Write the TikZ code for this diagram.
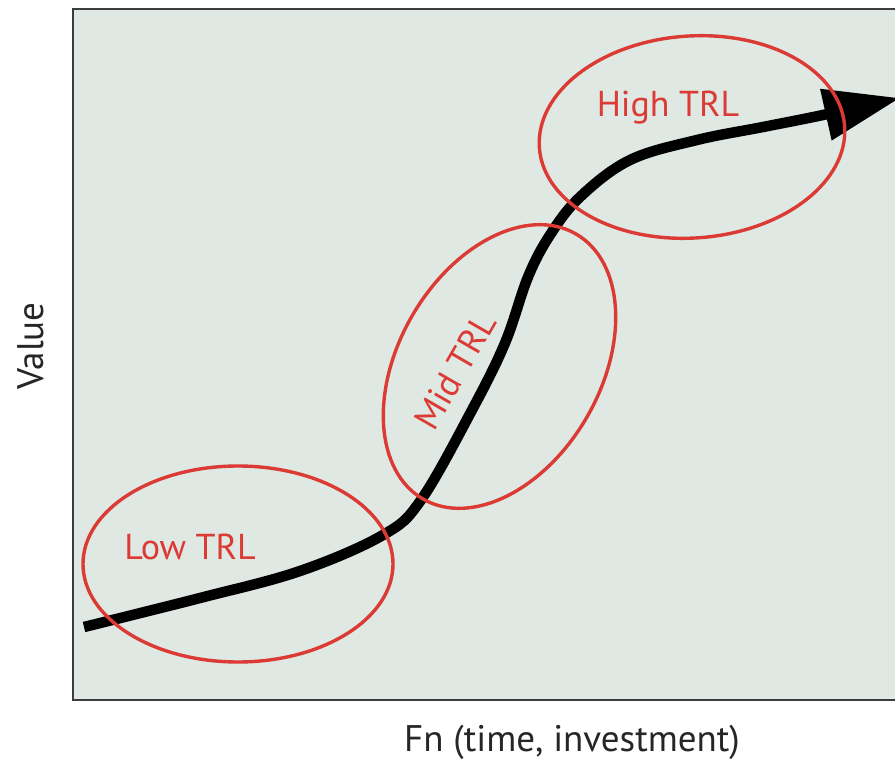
\documentclass[tikz,border=0pt]{standalone}
\usepackage{fontspec}
\setmainfont{PT Sans}
\usetikzlibrary{arrows.meta}
\definecolor{panel}{RGB}{223,232,226}
\definecolor{frame}{RGB}{60,60,60}
\definecolor{trlred}{RGB}{220,58,52}
\tikzset{
  trlring/.style={draw=trlred, line width=3.4pt},
  trllabel/.style={text=trlred, font=\fontsize{36}{42}\selectfont, inner sep=0pt},
  axislabel/.style={text=black!85, font=\fontsize{37}{42}\selectfont, inner sep=0pt},
  valuecurve/.style={line width=10.5pt, -{Triangle[length=76pt,width=50pt]}}
}
\begin{document}
\begin{tikzpicture}[x=1pt,y=-1pt]
  \useasboundingbox (0,0) rectangle (895,762);
  \clip (0,0) rectangle (895,762);
  % plot area
  \draw[fill=panel, draw=frame, line width=2pt] (73,9) rectangle (905,700);
  % axis labels
  \node[axislabel, anchor=base, rotate=90] (yl) at (43,346) {Value};
  \node[axislabel, anchor=base] (xl) at (572,751) {Fn (time, investment)};
  % value curve
  \coordinate (start) at (84,627);
  \coordinate (finish) at (900,98);
  \draw[valuecurve] plot[smooth, tension=0.6] coordinates {
    (start) (200,598) (300,571) (383,535) (421,500) (472,410)
    (505,343) (528,277) (550,235) (580,197) (630,160) (697,140)
    (763,127) (823,115) (finish)};
  % maturity regions
  \draw[trlring] (238,564) ellipse [x radius=155, y radius=98];
  \draw[trlring] (499.5,366.5) ellipse [x radius=153, y radius=101, rotate=60];
  \draw[trlring] (692,137) ellipse [x radius=153, y radius=101, rotate=4];
  \node[trllabel, anchor=base] (low) at (190,559) {Low TRL};
  \node[trllabel, rotate=60] (mid) at (455,371) {Mid TRL};
  \node[trllabel, anchor=base] (high) at (668,117) {High TRL};
\end{tikzpicture}
\end{document}
